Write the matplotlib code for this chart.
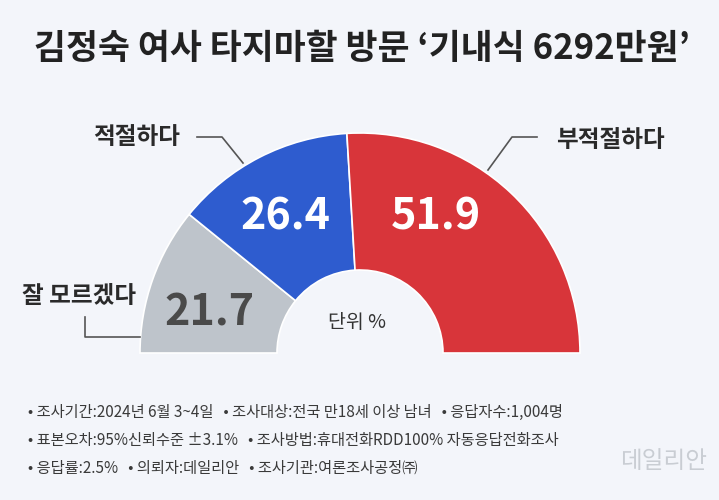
import matplotlib
matplotlib.use("Agg")
import matplotlib.pyplot as plt

plt.rcParams['font.family'] = ['Noto Sans CJK KR', 'DejaVu Sans']

title = "김정숙 여사 타지마할 방문 ‘기내식 6292만원’"
categories = ["잘 모르겠다", "적절하다", "부적절하다"]
values = [21.7, 26.4, 51.9]
colors = ["#BEC4CB", "#2E5CCF", "#D8353A"]
value_colors = ["#4A4A4A", "white", "white"]
unit_label = "단위 %"
notes = [
    "• 조사기간:2024년 6월 3~4일   • 조사대상:전국 만18세 이상 남녀   • 응답자수:1,004명",
    "• 표본오차:95%신뢰수준 ±3.1%   • 조사방법:휴대전화RDD100% 자동응답전화조사",
    "• 응답률:2.5%   • 의뢰자:데일리안   • 조사기관:여론조사공정㈜",
]
logo = "데일리안"

W, H = 719, 500
fig = plt.figure(figsize=(W / 100, H / 100), dpi=100, facecolor="#F3F5FA")
ax = fig.add_axes([0, 0, 1, 1])
ax.set_facecolor("#F3F5FA")

cx, cy = 360, H - 353
R_out, R_in = 220, 83
wedges, _ = ax.pie(values + [sum(values)], colors=colors + ["none"],
                   startangle=180, counterclock=False,
                   center=(cx, cy), radius=R_out,
                   wedgeprops=dict(width=R_out - R_in, edgecolor="white", linewidth=1.2))
wedges[-1].set_visible(False)
ax.set_xlim(0, W)
ax.set_ylim(0, H)
ax.set_aspect('equal')
ax.axis('off')

# value labels
val_pos = [(210, H - 313), (285, H - 216), (436, H - 216)]
for v, (x, y), c in zip(values, val_pos, value_colors):
    ax.text(x, y, f"{v}", ha="center", va="center", fontsize=31,
            fontweight="bold", color=c)

ax.text(cx - 3, H - 322, unit_label, ha="center", va="center", fontsize=14, color="#333333")

# category labels
lab_kw = dict(ha="center", va="center", fontsize=17, fontweight="bold", color="#2A2A2A")
ax.text(137, H - 137, categories[1], **lab_kw)
ax.text(610, H - 140, categories[2], **lab_kw)
ax.text(79, H - 296, categories[0], **lab_kw)

lc = "#555555"
ax.plot([197, 222, 243], [H - 137, H - 137, H - 163], color=lc, lw=1.2)
ax.plot([537, 512, 488], [H - 137, H - 137, H - 170], color=lc, lw=1.2)
ax.plot([85, 85, 140], [H - 317, H - 337, H - 337], color=lc, lw=1.2)

ax.text(W / 2 + 3, H - 48, title, ha="center", va="center", fontsize=25,
        fontweight="bold", color="#222222")

for i, line in enumerate(notes):
    ax.text(28, H - (412 + 28 * i), line, ha="left", va="center", fontsize=11,
            color="#3A3A3A")

ax.text(664, H - 462, logo, ha="center", va="center", fontsize=17,
        color="#C9CDD3")

fig.savefig("out.png", dpi=100, facecolor=fig.get_facecolor())
